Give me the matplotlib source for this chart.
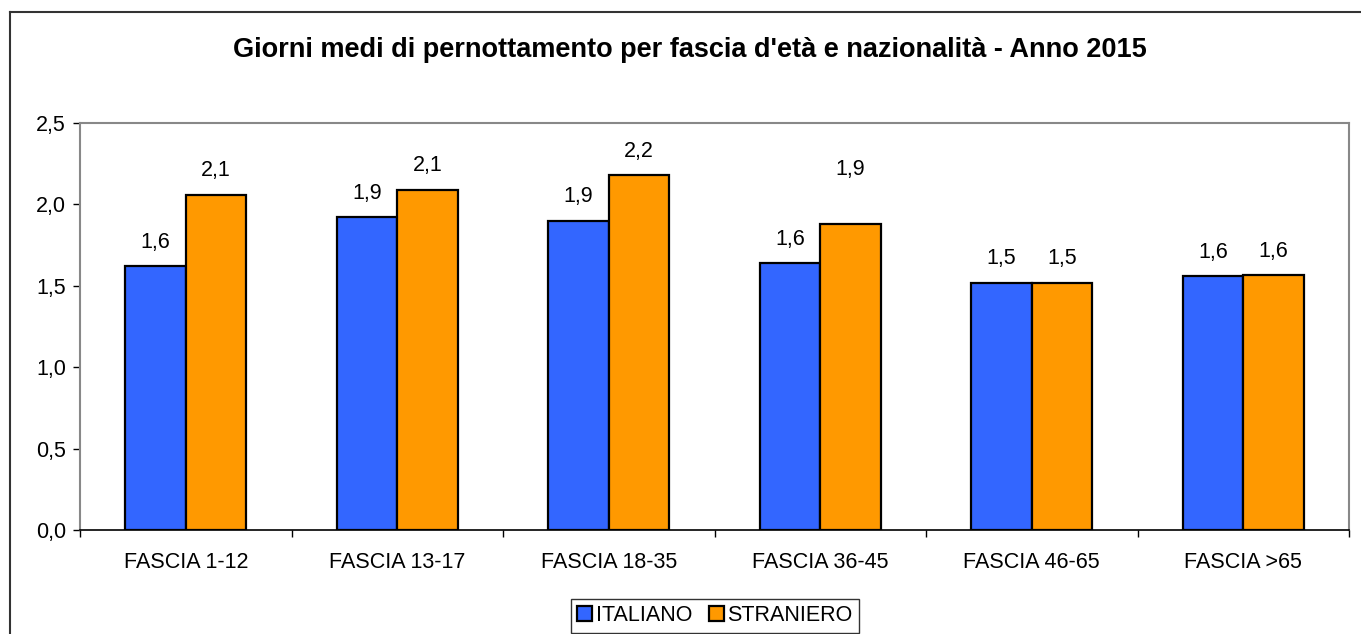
import matplotlib
matplotlib.use("Agg")
import matplotlib.pyplot as plt
import numpy as np
from matplotlib.lines import Line2D

plt.rcParams['font.family'] = ['Liberation Sans', 'DejaVu Sans']

categories = ["FASCIA 1-12", "FASCIA 13-17", "FASCIA 18-35", "FASCIA 36-45", "FASCIA 46-65", "FASCIA >65"]
italiano = [1.62, 1.92, 1.90, 1.64, 1.52, 1.56]
straniero = [2.06, 2.09, 2.18, 1.88, 1.52, 1.565]
series_names = ["ITALIANO", "STRANIERO"]
title = "Giorni medi di pernottamento per fascia d'età e nazionalità - Anno 2015"

W, H = 1361, 634
FS = 15.5
fig = plt.figure(figsize=(W / 100, H / 100), dpi=100)
ax = fig.add_axes([80 / W, 1 - 530 / H, (1349 - 80) / W, (530 - 123) / H])

x = np.arange(len(categories))
bw = 0.287
c_it = "#3366FF"
c_st = "#FF9900"
b1 = ax.bar(x - bw / 2, italiano, bw, color=c_it, edgecolor="black", linewidth=1.6, label=series_names[0], zorder=3)
b2 = ax.bar(x + bw / 2, straniero, bw, color=c_st, edgecolor="black", linewidth=1.6, label=series_names[1], zorder=3)

def fmt(v):
    return f"{v:.1f}".replace(".", ",")

for bars, vals, extra in ((b1, italiano, [0] * 6), (b2, straniero, [0, 0, 0, 30, 0, 0])):
    for b, v, e in zip(bars, vals, extra):
        ax.annotate(fmt(v), (b.get_x() + b.get_width() / 2, v), xytext=(0, 24 + e),
                    textcoords="offset pixels", ha="center", va="center", fontsize=FS)

ax.set_xlim(-0.5, len(categories) - 0.5)
ax.set_ylim(0, 2.5)
ax.set_yticks(np.arange(0, 2.51, 0.5))
ax.set_yticklabels([fmt(v) for v in np.arange(0, 2.51, 0.5)], fontsize=FS)
ax.set_xticks(x)
ax.set_xticklabels(categories, fontsize=FS)
ax.tick_params(axis="x", length=0, pad=16)
ax.set_xticks(np.arange(-0.5, len(categories)), minor=True)
ax.tick_params(axis="x", which="minor", length=5, width=1, color="black", direction="out")
ax.tick_params(axis="y", length=5, width=1, color="black", direction="out", pad=5)

for s in ("top", "right", "left"):
    ax.spines[s].set_color("#888888")
    ax.spines[s].set_linewidth(1.5)
ax.spines["bottom"].set_color("black")
ax.spines["bottom"].set_linewidth(1.2)

fig.text(690 / W, 1 - 50 / H, title, ha="center", va="center", fontsize=19.5, fontweight="bold")

leg = fig.legend(handles=[b1, b2], labels=series_names, loc="upper center",
                 bbox_to_anchor=(715 / W, 1 - 599 / H), ncol=2, frameon=True, fancybox=False,
                 edgecolor="black", fontsize=FS, handlelength=0.7, handleheight=0.7,
                 handletextpad=0.15, columnspacing=0.8, borderpad=0.3, borderaxespad=0)
leg.get_frame().set_linewidth(1.0)

# outer chart frame (left and top visible)
fig.add_artist(Line2D([10 / W, 10 / W], [0, 1 - 12 / H], transform=fig.transFigure, color="#333333", linewidth=1.5))
fig.add_artist(Line2D([10 / W, 1], [1 - 12 / H, 1 - 12 / H], transform=fig.transFigure, color="#333333", linewidth=1.5))

fig.savefig("out.png", dpi=100)
